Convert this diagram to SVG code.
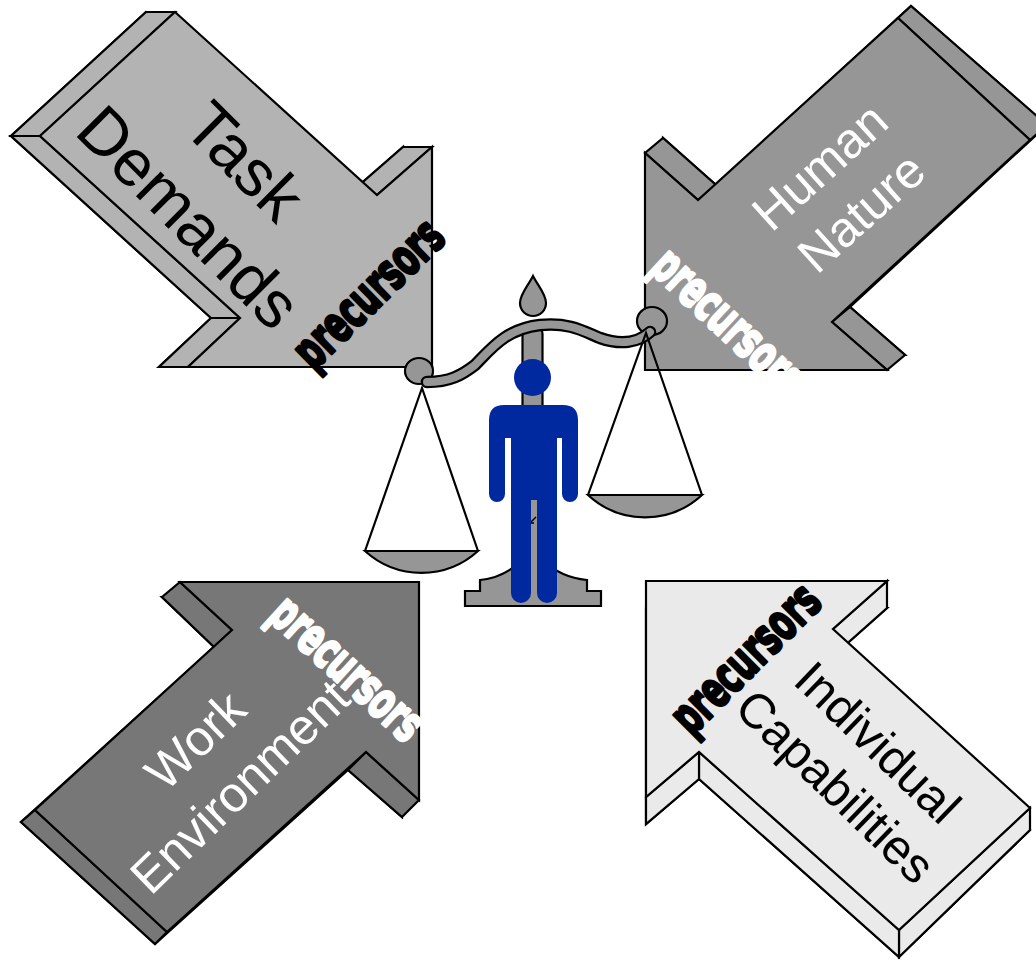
<svg xmlns="http://www.w3.org/2000/svg" width="1036" height="960" viewBox="0 0 1036 960">
  <style>
    .ln { stroke: #000; stroke-width: 2.2; stroke-linejoin: miter; }
    .td { fill: #b3b3b3; }
    .hn { fill: #969696; }
    .we { fill: #777777; }
    .ic { fill: #eaeaea; }
    .metal { fill: #969696; stroke: #000; stroke-width: 2.2; }
    .label { font-family: "Liberation Sans", Arial, sans-serif; text-anchor: middle; }
    .tag { font-family: "DejaVu Sans", "Liberation Sans", sans-serif; font-weight: bold; font-size: 30px; text-anchor: middle; stroke-width: 1.8; stroke-linejoin: round; }
    .man { fill: #0029a0; }
  </style>
  <rect width="1036" height="960" fill="#fff"/>

  <!-- Task Demands: extruded arrow pointing down-right -->
  <g id="task-demands">
    <polygon class="td ln" points="146,12 348,195 403,147 403,367 159,367 211,318 11,136"/>
    <polygon class="td ln" points="175,12 40,136 11,136 146,12"/>
    <polygon class="td ln" points="40,136 240,318 211,318 11,136"/>
    <polygon class="td ln" points="240,318 188,367 159,367 211,318"/>
    <polygon class="td ln" points="377,195 432,147 403,147 348,195"/>
    <polygon class="td ln" points="175,12 377,195 432,147 432,367 188,367 240,318 40,136"/>
    <g transform="translate(216,190) rotate(45)">
      <text class="label" font-size="66" x="0" y="-18" fill="#000">Task</text>
      <text class="label" font-size="66" x="0" y="61" fill="#000">Demands</text>
    </g>
    <g transform="translate(371,296) rotate(-44.3) scale(1,1.7)">
      <text class="tag" x="0" y="8" fill="#000" stroke="#000" textLength="188" lengthAdjust="spacingAndGlyphs">precursors</text>
    </g>
  </g>

  <!-- Human Nature: extruded arrow pointing down-left -->
  <g id="human-nature">
    <polygon class="hn ln" points="911,6 1047,125 850,307 905,355 663,355 663,138 716,185"/>
    <polygon class="hn ln" points="898,18 1030,140 1047,125 911,6"/>
    <polygon class="hn ln" points="832,322 887,370 905,355 850,307"/>
    <polygon class="hn ln" points="645,153 698,200 716,185 663,138"/>
    <polygon class="hn ln" points="898,18 1030,140 832,322 887,370 645,370 645,153 698,200"/>
    <g transform="translate(841,190) rotate(-42)">
      <text class="label" font-size="50" x="0" y="-14.5" fill="#fff">Human</text>
      <text class="label" font-size="50" x="0" y="47.5" fill="#fff">Nature</text>
    </g>
    <g transform="translate(726,324) rotate(43) scale(1,1.7)">
      <text class="tag" x="0" y="8" fill="#fff" stroke="#fff" textLength="188" lengthAdjust="spacingAndGlyphs">precursors</text>
    </g>
  </g>

  <!-- Work Environment: extruded arrow pointing up-right -->
  <g id="work-environment">
    <polygon class="we ln" points="162,597 401,597 402,817 348,770 155,944 21,822 214,647"/>
    <polygon class="we ln" points="180,582 232,630 214,647 162,597"/>
    <polygon class="we ln" points="419,800 366,752 348,770 402,817"/>
    <polygon class="we ln" points="167,932 35,810 21,822 155,944"/>
    <polygon class="we ln" points="180,582 419,582 419,800 366,752 167,932 35,810 232,630"/>
    <g transform="translate(218,764) rotate(-44)">
      <text class="label" font-size="50" x="0" y="-15.5" fill="#fff">Work</text>
      <text class="label" font-size="50" x="0" y="48.5" fill="#fff">Environment</text>
    </g>
    <g transform="translate(345,671) rotate(42.3) scale(1,1.7)">
      <text class="tag" x="0" y="8" fill="#fff" stroke="#fff" textLength="188" lengthAdjust="spacingAndGlyphs">precursors</text>
    </g>
  </g>

  <!-- Individual Capabilities: extruded arrow pointing up-left -->
  <g id="individual-capabilities">
    <polygon class="ic ln" points="646,608 887,608 833,656 1030,830 899,957 699,779 646,824"/>
    <polygon class="ic ln" points="887,581 833,629 833,656 887,608"/>
    <polygon class="ic ln" points="1030,808 899,930 899,957 1030,830"/>
    <polygon class="ic ln" points="899,930 699,752 699,779 899,957"/>
    <polygon class="ic ln" points="699,752 646,797 646,824 699,779"/>
    <polygon class="ic ln" points="646,581 887,581 833,629 1030,808 899,930 699,752 646,797"/>
    <g transform="translate(856,765) rotate(44)">
      <text class="label" font-size="49" x="0" y="-14.5" fill="#000">Individual</text>
      <text class="label" font-size="49" x="0" y="46.5" fill="#000">Capabilities</text>
    </g>
    <g transform="translate(748,661) rotate(-45) scale(1,1.7)">
      <text class="tag" x="0" y="8" fill="#000" stroke="#000" textLength="188" lengthAdjust="spacingAndGlyphs">precursors</text>
    </g>
  </g>

  <!-- Balance scale -->
  <g id="scale">
    <!-- foot -->
    <path class="metal" d="M465,606 V591 H480 V580 C500,578 512,570 522,560 H543 C553,570 566,578 587,580 V591 H601 V606 Z"/>
    <!-- post, open at the bottom so it merges into the foot -->
    <path class="metal" d="M522.5,598 V334 Q522.5,329 527,329 H538 Q542.5,329 542.5,334 V598"/>
    <!-- finial -->
    <path class="metal" d="M533,276 C528,286 520,294 520,303 A13,13 0 0 0 546,303 C546,294 538,286 533,276 Z"/>
    <!-- beam end knobs -->
    <ellipse class="metal" cx="419" cy="371" rx="14" ry="13"/>
    <ellipse class="metal" cx="652" cy="321" rx="15" ry="14"/>
    <!-- curved beam -->
    <path d="M427,382 C450,382 462,375 475,365 C490,350 505,329 540,325 C570,322 585,332 600,338 C620,345 638,343 650,332" fill="none" stroke="#000" stroke-width="12.5" stroke-linecap="round"/>
    <path d="M427,382 C450,382 462,375 475,365 C490,350 505,329 540,325 C570,322 585,332 600,338 C620,345 638,343 650,332" fill="none" stroke="#969696" stroke-width="8" stroke-linecap="round"/>
    <!-- left pan -->
    <path d="M365,551 L422,388 L478,551" fill="none" class="ln"/>
    <path class="metal" d="M365,551 H478 A84,84 0 0 1 365,551 Z"/>
    <!-- right pan -->
    <path d="M588,495 L646,333 L702,495" fill="none" class="ln"/>
    <path class="metal" d="M588,495 H702 A84,84 0 0 1 588,495 Z"/>
    <path d="M530,523 L536,517 M530,523 L530,519 M530,523 L534,523" stroke="#000" stroke-width="1.5" fill="none"/>
  </g>

  <!-- Person standing in front of the scale -->
  <g id="person" class="man">
    <circle cx="532.5" cy="377.5" r="18.5"/>
    <path d="M489,420 Q489,405 504,405 H563 Q578,405 578,420 V494 A8,8 0 0 1 562,494 V438 H557 V593 A10,10 0 0 1 537,593 V500 H531 V593 A10,10 0 0 1 511,593 V438 H505 V494 A8,8 0 0 1 489,494 Z"/>
  </g>
</svg>
